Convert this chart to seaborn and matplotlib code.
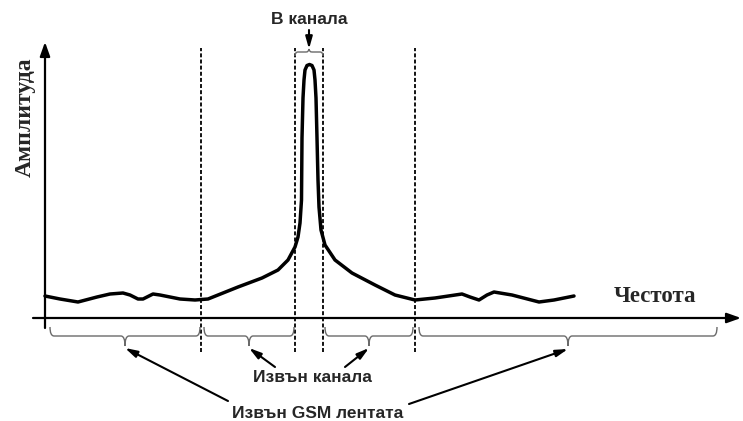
import numpy as np
import pandas as pd
import matplotlib
matplotlib.use("Agg")
import matplotlib.pyplot as plt
from matplotlib.path import Path
from matplotlib.patches import PathPatch
import seaborn as sns

# Spectrum: frequency vs amplitude (arbitrary units)
freq = [0, 15, 33, 52, 65, 78, 85, 93, 98, 108, 115, 135, 150, 163, 193, 217,
        233, 243, 250, 253, 255, 256.5, 257, 258, 259, 260, 262, 264.5, 267,
        269, 270, 271, 272, 273, 274, 276, 280, 290, 307, 330, 350, 370,
        390, 417, 425, 434, 442, 449, 467, 494, 509, 529]
amplitude = [22, 19, 16, 21, 24, 25, 23, 19, 19, 24, 23, 19, 18, 19, 31, 40,
             48, 58, 71, 81, 95, 118, 180, 220, 238, 248, 252.5, 253.5, 252.5,
             248, 238, 220, 180, 138, 111, 88, 73, 58, 45, 33, 23, 18,
             20, 24, 21, 18, 23, 26, 23, 16, 18, 22]

# Band boundaries (dashed markers): GSM band edges and channel edges
band_edges = [156, 250, 278, 370]
# Out-of-band / out-of-channel spans marked with braces under the axis
brace_spans = [(5, 155), (159, 249), (280, 368), (374, 672)]
# In-channel span marked above the peak
channel_span = (250, 278)

labels = {
    "amp": "Амплитуда",
    "freq": "Честота",
    "in": "В канала",
    "out_ch": "Извън канала",
    "out_gsm": "Извън GSM лентата",
}

sns.set_theme(style="white")
plt.rcParams["font.family"] = ["Liberation Sans", "DejaVu Sans"]

fig = plt.figure(figsize=(7.43, 4.21), dpi=100)
ax = fig.add_axes([0, 0, 1, 1])
ax.set_xlim(-45, 698)
ax.set_ylim(-103, 318)
ax.axis("off")

df = pd.DataFrame({"freq": freq, "amplitude": amplitude})
sns.lineplot(data=df, x="freq", y="amplitude", ax=ax, color="black",
             lw=2.5, sort=False, estimator=None, solid_joinstyle="round",
             solid_capstyle="round", zorder=3)

# Axes drawn as arrows
arrow_kw = dict(arrowstyle="-|>,head_length=0.7,head_width=0.25", color="black",
                lw=1.6, shrinkA=0, shrinkB=0)
ax.annotate("", xy=(696, 0), xytext=(-12, 0), arrowprops=arrow_kw)
ax.annotate("", xy=(0, 276), xytext=(0, -10), arrowprops=arrow_kw)

# Dashed boundary markers
for xe in band_edges:
    ax.plot([xe, xe], [-34, 270], color="black", lw=1.3,
            dashes=(2.2, 1.2), zorder=1)


def brace(x0, x1, y_end, y_mid, y_tip, r=4):
    xm = (x0 + x1) / 2
    verts = [(x0, y_end), (x0, y_mid), (x0 + r, y_mid),
             (xm - r, y_mid), (xm, y_mid), (xm, y_tip),
             (xm, y_mid), (xm + r, y_mid),
             (x1 - r, y_mid), (x1, y_mid), (x1, y_end)]
    codes = [Path.MOVETO, Path.CURVE3, Path.CURVE3,
             Path.LINETO, Path.CURVE3, Path.CURVE3,
             Path.CURVE3, Path.CURVE3,
             Path.LINETO, Path.CURVE3, Path.CURVE3]
    ax.add_patch(PathPatch(Path(verts, codes), fill=False,
                           edgecolor="#6a6a6a", lw=1.0))
    return xm


tips = [brace(a, b, -9, -18, -28) for a, b in brace_spans]
top_tip = brace(channel_span[0], channel_span[1], 262, 266, 269, r=3)

# Labels
ax.text(-20, 201, labels["amp"], rotation=90, ha="center", va="center",
        fontsize=17, fontweight="bold", family="Liberation Serif")
ax.text(610, 22, labels["freq"], ha="center", va="center",
        fontsize=16.5, fontweight="bold", family="Liberation Serif")
ax.text(264, 298, labels["in"], ha="center", va="center",
        fontsize=12.5, fontweight="bold")
ax.text(267, -59, labels["out_ch"], ha="center", va="center",
        fontsize=12.5, fontweight="bold")
ax.text(273, -95, labels["out_gsm"], ha="center", va="center",
        fontsize=12.5, fontweight="bold")

pointer_kw = dict(arrowstyle="-|>,head_length=0.6,head_width=0.17",
                  color="black", lw=1.5, shrinkA=0, shrinkB=0)
ax.annotate("", xy=(top_tip, 269), xytext=(top_tip, 288), arrowprops=pointer_kw)
ax.annotate("", xy=(tips[1], -30), xytext=(230, -49), arrowprops=pointer_kw)
ax.annotate("", xy=(tips[2], -30), xytext=(300, -49), arrowprops=pointer_kw)
ax.annotate("", xy=(tips[0], -30), xytext=(183, -83), arrowprops=pointer_kw)
ax.annotate("", xy=(tips[3], -31), xytext=(364, -86), arrowprops=pointer_kw)

fig.savefig("out.png", dpi=100, facecolor="white")
